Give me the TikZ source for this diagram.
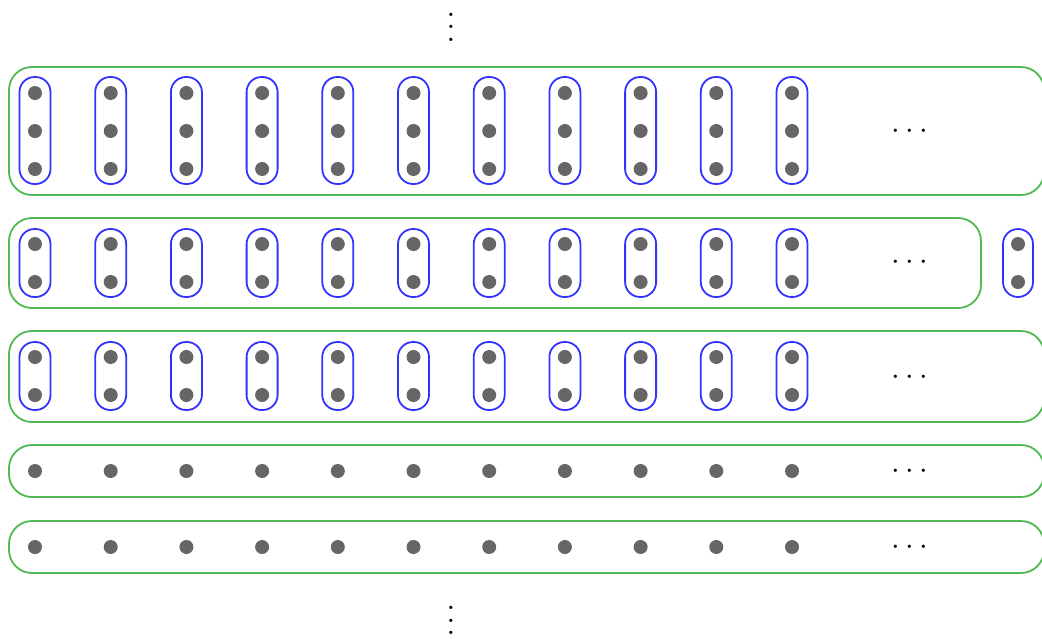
\documentclass[tikz,border=0pt]{standalone}
\definecolor{gboxc}{RGB}{80,184,80}
\definecolor{bboxc}{RGB}{51,51,255}
\definecolor{dotc}{RGB}{102,102,102}
\newcommand{\myvdots}{\vbox{\baselineskip4pt\lineskiplimit0pt\hbox{.}\hbox{.}\hbox{.}}}
\begin{document}
\begin{tikzpicture}[x=1pt,y=-1pt,
  greenbox/.style={draw=gboxc,line width=1.8pt,rounded corners=23pt},
  bluebox/.style={draw=bboxc,line width=1.8pt,rounded corners=15pt},
  dotfill/.style={fill=dotc},
  dotsnode/.style={inner sep=0pt,scale=3.1,anchor=base}]
\useasboundingbox (0,0) rectangle (1042,638);
\clip (0,0) rectangle (1042,638);
% green rows
\draw[greenbox] (9,67) rectangle (1044,195);
\draw[greenbox] (9,218) rectangle (981,308);
\draw[greenbox] (9,331) rectangle (1044,422);
\draw[greenbox] (9,445) rectangle (1044,497);
\draw[greenbox] (9,521) rectangle (1044,573);
% columns
\foreach \k in {0,...,10} {
  \pgfmathsetmacro\x{35+75.7*\k}
  \draw[bluebox] (\x-15.5,77) rectangle (\x+15.5,184);
  \draw[bluebox] (\x-15.5,229) rectangle (\x+15.5,297);
  \draw[bluebox] (\x-15.5,342) rectangle (\x+15.5,410);
  \foreach \y in {93,131,169,244,282,357,395,471,547}
    \fill[dotfill] (\x,\y) circle (7pt);
}
% extra column
\draw[bluebox] (1003,229) rectangle (1033,297);
\fill[dotfill] (1018,244) circle (7pt);
\fill[dotfill] (1018,282) circle (7pt);
% ellipses
\node[dotsnode] (c1) at (910,138.8) {$\cdots$};
\node[dotsnode] (c2) at (910,269.8) {$\cdots$};
\node[dotsnode] (c3) at (910,384.8) {$\cdots$};
\node[dotsnode] (c4) at (910,478.8) {$\cdots$};
\node[dotsnode] (c5) at (910,554.8) {$\cdots$};
\node[dotsnode] (vt) at (451,41) {\myvdots};
\node[dotsnode] (vb) at (451,634.5) {\myvdots};
\end{tikzpicture}
\end{document}
